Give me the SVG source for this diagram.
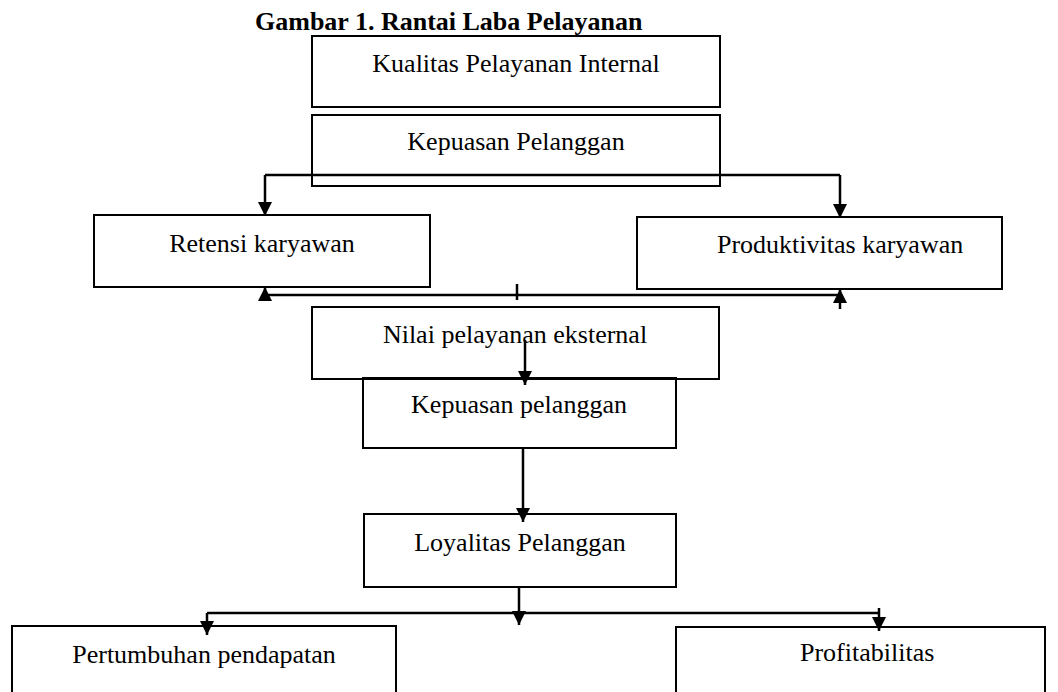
<svg xmlns="http://www.w3.org/2000/svg" width="1058" height="692" viewBox="0 0 1058 692">
<style>
.box{fill:none;stroke:#000;stroke-width:2}
.lbl{font-family:"Liberation Serif","Times New Roman",serif;font-size:26px;fill:#000}
.c{text-anchor:middle}
.title{font-family:"Liberation Serif","Times New Roman",serif;font-size:26px;font-weight:bold;fill:#000}
.con{fill:none;stroke:#000;stroke-width:2.5}
</style>
<defs>
<marker id="ah" markerUnits="userSpaceOnUse" markerWidth="14" markerHeight="14" refX="14" refY="7" orient="auto">
<path d="M0,0 L14,7 L0,14 z" fill="#000"/>
</marker>
</defs>
<rect width="1058" height="692" fill="#fff"/>
<text class="title" x="255" y="30">Gambar 1. Rantai Laba Pelayanan</text>
<g id="n1"><rect class="box" x="312" y="36" width="408" height="71"/><text class="lbl c" x="516" y="72">Kualitas Pelayanan Internal</text></g>
<g id="n2"><rect class="box" x="312" y="115" width="408" height="71"/><text class="lbl c" x="516" y="150">Kepuasan Pelanggan</text></g>
<g id="n3"><rect class="box" x="94" y="215" width="336" height="72"/><text class="lbl c" x="262" y="252">Retensi karyawan</text></g>
<g id="n4"><rect class="box" x="637" y="217" width="365" height="72"/><text class="lbl" x="717" y="253">Produktivitas karyawan</text></g>
<g id="n5"><rect class="box" x="312" y="307" width="407" height="72"/><text class="lbl c" x="515" y="343">Nilai pelayanan eksternal</text></g>
<g id="n6"><rect class="box" x="363" y="378" width="313" height="70"/><text class="lbl c" x="519" y="413">Kepuasan pelanggan</text></g>
<g id="n7"><rect class="box" x="364" y="514" width="312" height="73"/><text class="lbl c" x="520" y="551">Loyalitas Pelanggan</text></g>
<g id="n8"><rect class="box" x="12" y="626" width="384" height="80"/><text class="lbl c" x="204" y="663">Pertumbuhan pendapatan</text></g>
<g id="n9"><rect class="box" x="676" y="627" width="369" height="80"/><text class="lbl" x="800" y="661">Profitabilitas</text></g>
<g id="connectors">
<path class="con" d="M265,175 H840"/>
<path class="con" d="M265,175 V216" marker-end="url(#ah)"/>
<path class="con" d="M840,175 V218" marker-end="url(#ah)"/>
<path class="con" d="M265,295 H840"/>
<path class="con" d="M265,301 V287" marker-end="url(#ah)"/>
<path class="con" d="M840,309 V289" marker-end="url(#ah)"/>
<path class="con" d="M517,284 V300"/>
<path class="con" d="M525,340 V385" marker-end="url(#ah)"/>
<path class="con" d="M523,449 V522" marker-end="url(#ah)"/>
<path class="con" d="M519,587 V625" marker-end="url(#ah)"/>
<path class="con" d="M207,613 H879"/>
<path class="con" d="M207,613 V635" marker-end="url(#ah)"/>
<path class="con" d="M879,608 V631" marker-end="url(#ah)"/>
</g>
</svg>
